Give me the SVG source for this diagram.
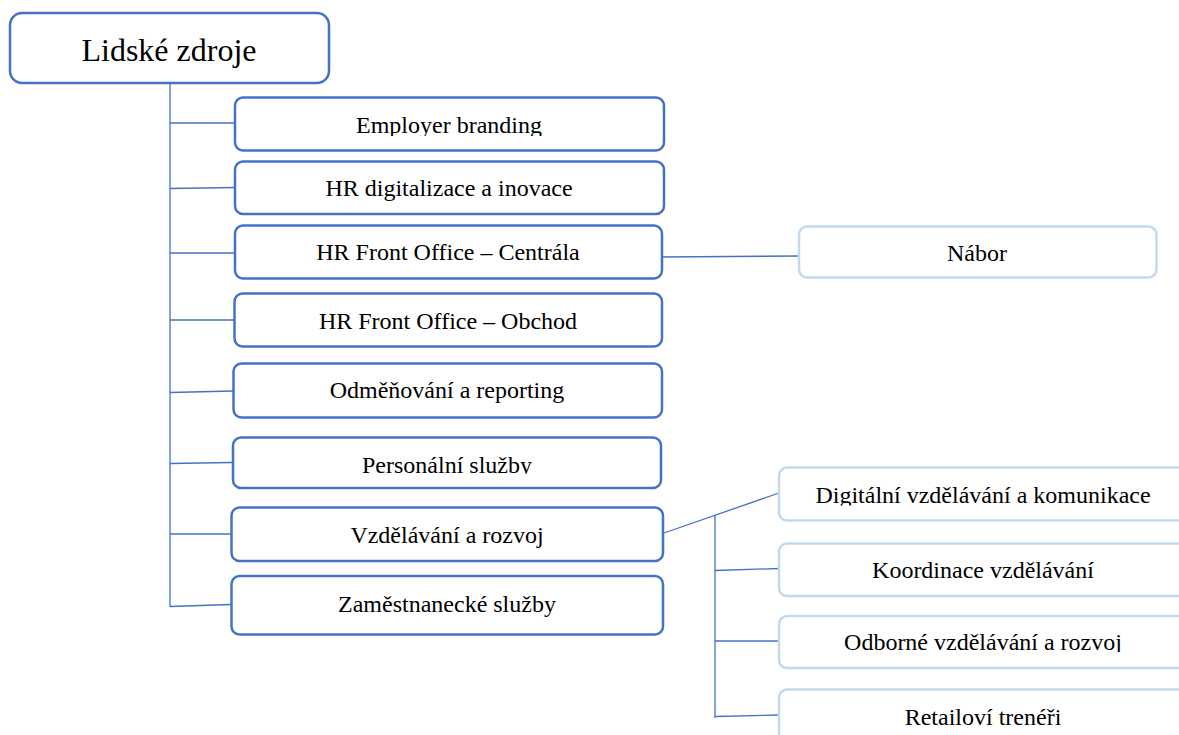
<svg xmlns="http://www.w3.org/2000/svg" width="1179" height="735" viewBox="0 0 1179 735">
<style>
.box{fill:#FFFFFF;stroke:#4472C4;stroke-width:2.5}
.lbox{fill:#FFFFFF;stroke:#C2D9F0;stroke-width:2.5}
.t{font-family:'Liberation Serif','DejaVu Serif',serif;font-size:24px;fill:#000000;text-anchor:middle}
.root{font-size:32px}
.c{stroke:#4472C4;stroke-width:1.3;fill:none}
</style>
<defs>
<clipPath id="clipEmp"><rect x="235" y="97" width="429" height="39"/></clipPath>
<clipPath id="clipPers"><rect x="233" y="437" width="428" height="37"/></clipPath>
<clipPath id="clipDig"><rect x="779" y="467" width="400" height="38.5"/></clipPath>
<clipPath id="clipOdb"><rect x="779" y="616" width="400" height="36"/></clipPath>
</defs>
<rect width="1179" height="735" fill="#FFFFFF"/>
<g id="connectors">
<line class="c" x1="170" y1="84" x2="170" y2="607"/>
<line class="c" x1="170" y1="123" x2="235" y2="123"/>
<line class="c" x1="170" y1="188.5" x2="235" y2="187.5"/>
<line class="c" x1="170" y1="253" x2="235" y2="253"/>
<line class="c" x1="170" y1="320" x2="234" y2="320"/>
<line class="c" x1="170" y1="392.5" x2="233" y2="391"/>
<line class="c" x1="170" y1="463.5" x2="232" y2="462.5"/>
<line class="c" x1="170" y1="534" x2="231" y2="534"/>
<line class="c" x1="170" y1="606.5" x2="231" y2="604.5"/>
<line class="c" x1="662" y1="257" x2="799" y2="256"/>
<line class="c" x1="664" y1="533" x2="779" y2="493"/>
<line class="c" x1="715" y1="515" x2="715" y2="718"/>
<line class="c" x1="715" y1="570.5" x2="779" y2="568.5"/>
<line class="c" x1="715" y1="641" x2="779" y2="641"/>
<line class="c" x1="715" y1="716.5" x2="779" y2="715"/>
</g>
<g id="root">
<rect class="box" x="10" y="13" width="319" height="70" rx="12"/>
<text class="t root" x="169" y="61">Lidské zdroje</text>
</g>
<g id="employer-branding">
<rect class="box" x="235" y="97.5" width="429" height="53" rx="8"/>
<text class="t" x="449" y="133" clip-path="url(#clipEmp)">Employer branding</text>
</g>
<g id="hr-digitalizace">
<rect class="box" x="235" y="161.5" width="429" height="52.5" rx="8"/>
<text class="t" x="449" y="196">HR digitalizace a inovace</text>
</g>
<g id="hr-fo-centrala">
<rect class="box" x="235" y="225.5" width="427" height="53" rx="8"/>
<text class="t" x="448" y="260">HR Front Office – Centrála</text>
</g>
<g id="hr-fo-obchod">
<rect class="box" x="234.5" y="293.5" width="427.5" height="53" rx="8"/>
<text class="t" x="448" y="329">HR Front Office – Obchod</text>
</g>
<g id="odmenovani">
<rect class="box" x="233.5" y="363.5" width="428.5" height="54" rx="8"/>
<text class="t" x="447" y="398">Odměňování a reporting</text>
</g>
<g id="personalni">
<rect class="box" x="233" y="437.5" width="428" height="50.5" rx="8"/>
<text class="t" x="447" y="473" clip-path="url(#clipPers)">Personální služby</text>
</g>
<g id="vzdelavani">
<rect class="box" x="231.5" y="507.5" width="431.5" height="53.5" rx="8"/>
<text class="t" x="447" y="543">Vzdělávání a rozvoj</text>
</g>
<g id="zamestnanecke">
<rect class="box" x="231.5" y="576" width="431.5" height="58.5" rx="8"/>
<text class="t" x="447" y="612">Zaměstnanecké služby</text>
</g>
<g id="nabor">
<rect class="lbox" x="799" y="226.5" width="357.5" height="51" rx="8"/>
<text class="t" x="977" y="261">Nábor</text>
</g>
<g id="digitalni">
<rect class="lbox" x="779" y="467.5" width="440" height="53" rx="8"/>
<text class="t" x="983" y="503" clip-path="url(#clipDig)">Digitální vzdělávání a komunikace</text>
</g>
<g id="koordinace">
<rect class="lbox" x="779" y="543.5" width="440" height="52.5" rx="8"/>
<text class="t" x="983" y="578">Koordinace vzdělávání</text>
</g>
<g id="odborne">
<rect class="lbox" x="779" y="616" width="440" height="52" rx="8"/>
<text class="t" x="983" y="650" clip-path="url(#clipOdb)">Odborné vzdělávání a rozvoj</text>
</g>
<g id="retailovi">
<rect class="lbox" x="779" y="689.5" width="440" height="70" rx="8"/>
<text class="t" x="983" y="725">Retailoví trenéři</text>
</g>
</svg>
